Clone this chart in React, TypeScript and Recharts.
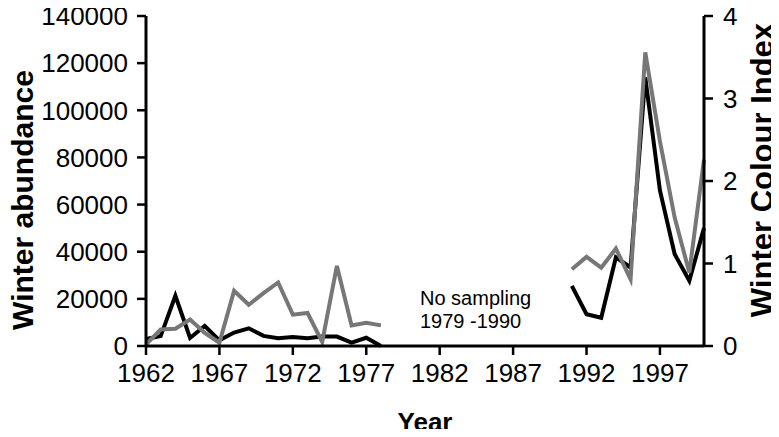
import React from "react"
import {
  ComposedChart,
  Line,
  XAxis,
  YAxis,
} from "recharts"

const years = [
  1962, 1963, 1964, 1965, 1966, 1967, 1968, 1969, 1970, 1971, 1972, 1973, 1974,
  1975, 1976, 1977, 1978, 1979, 1980, 1981, 1982, 1983, 1984, 1985, 1986, 1987,
  1988, 1989, 1990, 1991, 1992, 1993, 1994, 1995, 1996, 1997, 1998, 1999, 2000,
]

// black line, left axis
const abundance: (number | null)[] = [
  3000, 4200, 21300, 3400, 8500, 2400, 5700, 7500, 4300, 3300, 3800, 3300, 4000,
  4000, 1400, 3500, 0,
  null, null, null, null, null, null, null, null, null, null, null, null,
  25500, 13500, 12000, 37600, 33300, 114000, 66000, 39000, 27700, 50000,
]

// grey line, right axis
const colourIndex: (number | null)[] = [
  0.02, 0.2, 0.21, 0.32, 0.16, 0.04, 0.67, 0.5, 0.64, 0.77, 0.38, 0.4, 0.05,
  0.97, 0.25, 0.28, 0.25,
  null, null, null, null, null, null, null, null, null, null, null, null,
  0.93, 1.08, 0.95, 1.18, 0.81, 3.56, 2.48, 1.56, 0.89, 2.26,
]

const yearTicks = [1962, 1967, 1972, 1977, 1982, 1987, 1992, 1997]
const abundanceTicks = [0, 20000, 40000, 60000, 80000, 100000, 120000, 140000]
const indexTicks = [0, 1, 2, 3, 4]

const data = years.map((year, i) => ({
  year,
  abundance: abundance[i],
  colourIndex: colourIndex[i],
}))

const FONT = "'Liberation Sans', Arial, Helvetica, sans-serif"
const GREY = "#777777"

const tickStyle = { fill: "#000", fontSize: 26, fontFamily: FONT }
const axisLine = { stroke: "#000", strokeWidth: 3 }
const tickLine = { stroke: "#000", strokeWidth: 2.5 }

const titleProps = {
  fontFamily: FONT,
  fontWeight: "bold" as const,
  fill: "#000",
  textAnchor: "middle" as const,
}

export default function App() {
  return (
    <div style={{ position: "relative", margin: -8, width: 779, height: 437, background: "#fff" }}>
      <ComposedChart
        width={779}
        height={437}
        data={data}
        margin={{ top: 16, right: 0, bottom: 0, left: 0 }}
      >
        <XAxis
          dataKey="year"
          type="number"
          domain={[1962, 2000]}
          ticks={yearTicks}
          interval={0}
          height={91}
          tick={tickStyle}
          tickSize={9}
          tickMargin={9}
          axisLine={axisLine}
          tickLine={tickLine}
          label={{
            content: () => (
              <text x={425} y={431} fontSize={26} {...titleProps}>
                Year
              </text>
            ),
          }}
        />
        <YAxis
          yAxisId="left"
          orientation="left"
          domain={[0, 140000]}
          ticks={abundanceTicks}
          interval={0}
          width={146}
          tick={tickStyle}
          tickSize={9}
          tickMargin={9}
          axisLine={axisLine}
          tickLine={tickLine}
          label={{
            content: () => (
              <text x={33} y={200} transform="rotate(-90 33 200)" fontSize={30} {...titleProps}>
                Winter abundance
              </text>
            ),
          }}
        />
        <YAxis
          yAxisId="right"
          orientation="right"
          domain={[0, 4]}
          ticks={indexTicks}
          interval={0}
          width={75}
          tick={tickStyle}
          tickSize={9}
          tickMargin={10}
          axisLine={axisLine}
          tickLine={tickLine}
          label={{
            content: () => (
              <text x={773} y={170} transform="rotate(-90 773 170)" fontSize={31} {...titleProps}>
                Winter Colour Index
              </text>
            ),
          }}
        />
        <Line
          yAxisId="left"
          dataKey="abundance"
          stroke="#000"
          strokeWidth={4}
          dot={false}
          connectNulls={false}
          isAnimationActive={false}
        />
        <Line
          yAxisId="right"
          dataKey="colourIndex"
          stroke={GREY}
          strokeWidth={4}
          dot={false}
          connectNulls={false}
          isAnimationActive={false}
        />
      </ComposedChart>
      <svg
        width={779}
        height={437}
        style={{ position: "absolute", left: 0, top: 0, pointerEvents: "none" }}
      >
        <text x={420} y={305} fontFamily={FONT} fontSize={20} fill="#000">
          No sampling
        </text>
        <text x={420} y={328} fontFamily={FONT} fontSize={20} fill="#000">
          1979 -1990
        </text>
      </svg>
    </div>
  )
}
